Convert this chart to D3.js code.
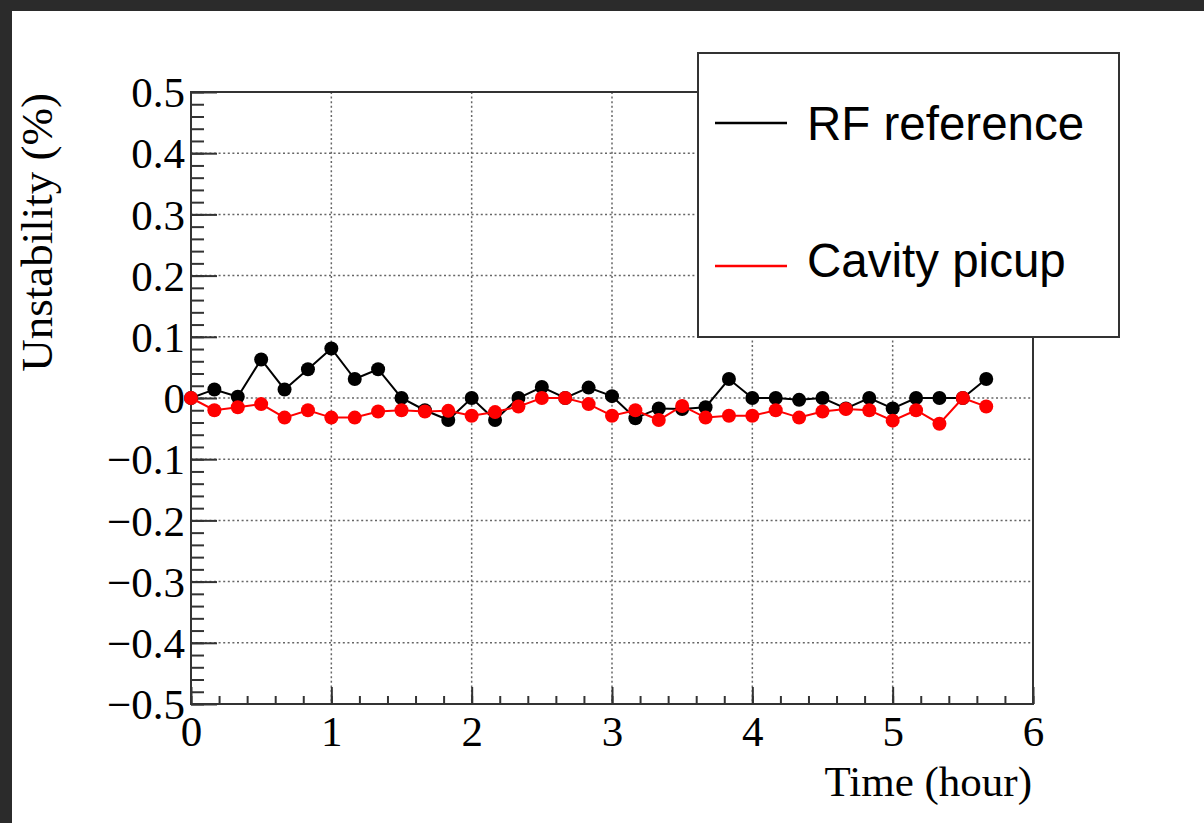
<!DOCTYPE html>
<html>
<head>
<meta charset="utf-8">
<script src="https://cdn.jsdelivr.net/npm/d3@7"></script>
<style>
  html, body { margin: 0; padding: 0; background: #2b2b2b; }
  svg { display: block; }
</style>
</head>
<body>
<svg id="chart" width="1204" height="823"></svg>
<script>
// ---- data ----
const times = [0, 0.1667, 0.3333, 0.5, 0.6667, 0.8333, 1, 1.1667, 1.3333, 1.5, 1.6667, 1.8333,
  2, 2.1667, 2.3333, 2.5, 2.6667, 2.8333, 3, 3.1667, 3.3333, 3.5, 3.6667, 3.8333,
  4, 4.1667, 4.3333, 4.5, 4.6667, 4.8333, 5, 5.1667, 5.3333, 5.5, 5.6667];
const rfReference = [0, 0.014, 0.002, 0.063, 0.014, 0.047, 0.081, 0.031, 0.047, 0, -0.02, -0.036,
  0, -0.036, 0, 0.018, 0, 0.017, 0.003, -0.033, -0.017, -0.018, -0.015, 0.031,
  0, 0, -0.003, 0, -0.017, 0, -0.017, 0, 0, 0, 0.031];
const cavityPicup = [0, -0.02, -0.015, -0.01, -0.032, -0.02, -0.032, -0.032, -0.022, -0.02, -0.022, -0.021,
  -0.029, -0.023, -0.014, 0, 0, -0.01, -0.029, -0.02, -0.036, -0.013, -0.032, -0.029,
  -0.029, -0.02, -0.032, -0.022, -0.018, -0.02, -0.037, -0.02, -0.042, 0, -0.014];
const seriesNames = ["RF reference", "Cavity picup"];
const seriesColors = ["#000000", "#ff0000"];
const xTicks = [0, 1, 2, 3, 4, 5, 6];
const yTicks = [-0.5, -0.4, -0.3, -0.2, -0.1, 0, 0.1, 0.2, 0.3, 0.4, 0.5];
const xTitle = "Time (hour)";
const yTitle = "Unstability (%)";

// ---- layout ----
const svg = d3.select("#chart");
const L = 191, R = 1033, T = 92, B = 704;
const serif = "'Liberation Serif', 'Times New Roman', serif";
const sans = "'Liberation Sans', Arial, sans-serif";

svg.append("rect").attr("x", 0).attr("y", 0).attr("width", 1204).attr("height", 823).attr("fill", "#2b2b2b");
svg.append("rect").attr("x", 12).attr("y", 11).attr("width", 1192).attr("height", 812).attr("fill", "#ffffff");

const x = d3.scaleLinear().domain([0, 6]).range([L, R]);
const y = d3.scaleLinear().domain([-0.5, 0.5]).range([B, T]);

// grid
const grid = svg.append("g");
grid.selectAll("line.gx").data(xTicks.filter(d => d > 0 && d < 6)).enter().append("line")
  .attr("x1", d => x(d)).attr("x2", d => x(d)).attr("y1", T).attr("y2", B)
  .attr("stroke", "#666").attr("stroke-width", 1.5).attr("stroke-dasharray", "2,2.6");
grid.selectAll("line.gy").data(yTicks.filter(d => d > -0.5 && d < 0.5)).enter().append("line")
  .attr("x1", L).attr("x2", R).attr("y1", d => y(d)).attr("y2", d => y(d))
  .attr("stroke", "#666").attr("stroke-width", 1.5).attr("stroke-dasharray", "2,2.6");

// axes ticks (inward)
function styleAxis(g) {
  g.select(".domain").remove();
  g.selectAll(".tick line").attr("stroke", "#333").attr("stroke-width", 2);
  g.selectAll("text").remove();
}
const yMinor = d3.range(-50, 51, 2).map(v => v / 100);
svg.append("g").attr("transform", `translate(${L},0)`)
  .call(d3.axisRight(y).tickValues(yMinor).tickSize(13).tickFormat(""))
  .call(styleAxis);
svg.append("g").attr("transform", `translate(${L},0)`)
  .call(d3.axisRight(y).tickValues(yTicks).tickSize(26).tickFormat(""))
  .call(styleAxis);
const xMinor = d3.range(0, 31, 1).map(v => v / 5);
svg.append("g").attr("transform", `translate(0,${B})`)
  .call(d3.axisTop(x).tickValues(xMinor).tickSize(8).tickFormat(""))
  .call(styleAxis);
svg.append("g").attr("transform", `translate(0,${B})`)
  .call(d3.axisTop(x).tickValues(xTicks).tickSize(17).tickFormat(""))
  .call(styleAxis);

// frame
svg.append("rect").attr("x", L).attr("y", T).attr("width", R - L).attr("height", B - T)
  .attr("fill", "none").attr("stroke", "#333").attr("stroke-width", 2);

// tick labels
const yFmt = d => d === 0 ? "0" : d3.format(".1f")(d);
const yLab = svg.append("g").attr("transform", `translate(${L - 6},0)`)
  .call(d3.axisLeft(y).tickValues(yTicks).tickSize(0).tickPadding(0).tickFormat(yFmt));
yLab.select(".domain").remove();
yLab.selectAll("text").attr("font-family", serif).attr("font-size", 43).attr("fill", "#000")
  .attr("dy", "0.34em");

const xLab = svg.append("g").attr("transform", `translate(0,${B})`)
  .call(d3.axisBottom(x).tickValues(xTicks).tickSize(0).tickPadding(0).tickFormat(d3.format("d")));
xLab.select(".domain").remove();
xLab.selectAll("text").attr("font-family", serif).attr("font-size", 43).attr("fill", "#000")
  .attr("dy", null).attr("y", 42);

// titles
svg.append("text").attr("x", R - 1).attr("y", 796).attr("text-anchor", "end")
  .attr("font-family", serif).attr("font-size", 43).attr("fill", "#000").text(xTitle);
svg.append("text").attr("transform", `translate(52,${T + 1}) rotate(-90)`).attr("text-anchor", "end")
  .attr("font-family", serif).attr("font-size", 45).attr("fill", "#000").text(yTitle);

// series
const seriesData = [rfReference, cavityPicup];
const line = d3.line().x(d => x(d[0])).y(d => y(d[1]));
seriesData.forEach((vals, si) => {
  const pts = times.map((t, i) => [t, vals[i]]);
  const g = svg.append("g");
  g.append("path").datum(pts).attr("d", line).attr("fill", "none")
    .attr("stroke", seriesColors[si]).attr("stroke-width", 2);
  g.selectAll("circle").data(pts).enter().append("circle")
    .attr("cx", d => x(d[0])).attr("cy", d => y(d[1])).attr("r", 7)
    .attr("fill", seriesColors[si]);
});

// legend
const lg = svg.append("g");
lg.append("rect").attr("x", 698).attr("y", 53).attr("width", 421).attr("height", 284)
  .attr("fill", "#fff").attr("stroke", "#333").attr("stroke-width", 2);
const legY = [123, 266];
const legBase = [140, 277];
seriesNames.forEach((n, i) => {
  lg.append("line").attr("x1", 715).attr("x2", 787).attr("y1", legY[i]).attr("y2", legY[i])
    .attr("stroke", seriesColors[i]).attr("stroke-width", 2.5);
  lg.append("text").attr("x", 807).attr("y", legBase[i]).attr("font-family", sans)
    .attr("font-size", 47.5).attr("fill", "#000").text(n);
});
</script>
</body>
</html>
